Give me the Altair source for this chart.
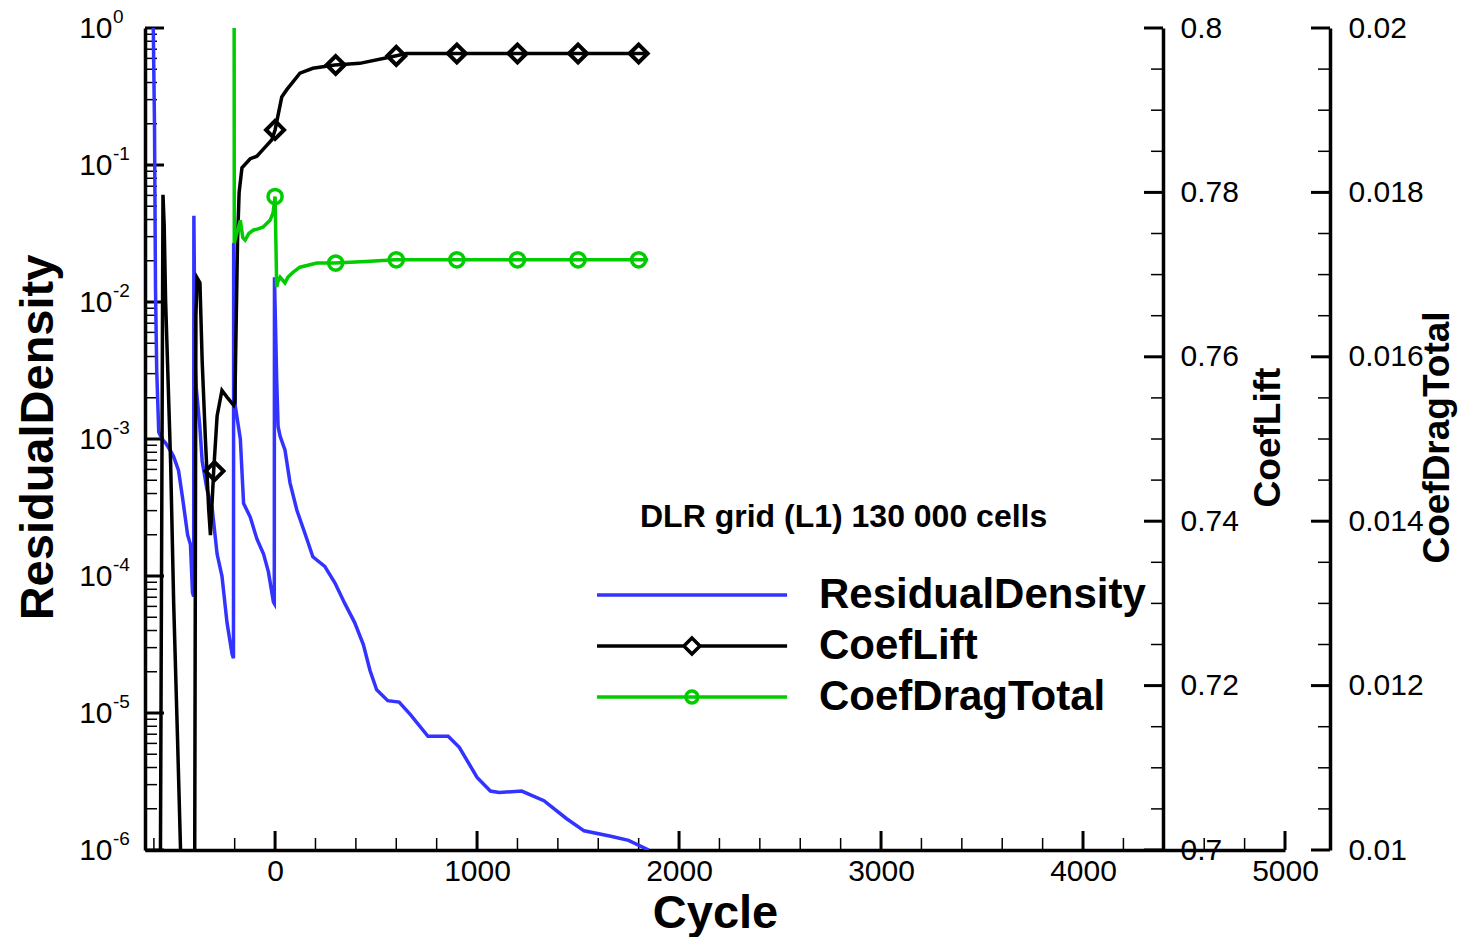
import altair as alt
import pandas as pd

# ---------------- values ----------------
series_names = ["ResidualDensity", "CoefLift", "CoefDragTotal"]

res_cycle = [-603, -597, -592, -586, -576, -560, -542, -520, -502, -478,
             -458, -433, -419, -409, -403, -402, -396, -390, -373, -361,
             -337, -312, -287, -263, -238, -213, -206, -205, -197, -172,
             -156, -123, -90, -57, -33, -8, -4, -3, 8, 15,
             25, 49, 74, 108, 148, 187, 246, 296, 345, 394,
             437, 470, 503, 558, 614, 669, 757, 857, 912, 1000,
             1066, 1110, 1221, 1331, 1442, 1530, 1662, 1750, 1850]
res_log10 = [0.0, -0.7, -1.9, -2.5, -2.95, -3.0, -3.03, -3.08, -3.13, -3.23,
             -3.43, -3.70, -3.77, -4.12, -4.15, -1.37, -2.45, -2.63, -2.9, -3.16,
             -3.37, -3.50, -3.84, -4.0, -4.34, -4.57, -4.6, -1.57, -2.76, -3.0,
             -3.47, -3.57, -3.73, -3.84, -3.97, -4.19, -4.2, -1.82, -2.57, -2.91,
             -2.98, -3.08, -3.32, -3.52, -3.69, -3.86, -3.93, -4.05, -4.20, -4.34,
             -4.50, -4.69, -4.83, -4.91, -4.92, -5.01, -5.17, -5.17, -5.25, -5.47,
             -5.57, -5.58, -5.57, -5.64, -5.77, -5.86, -5.90, -5.93, -6.0]

lift_cycle = [-583, -555, -549, -542, -517, -502, -483, -468, -455, -425,
              -404, -392, -386, -372, -361, -345, -329, -320, -304, -287,
              -263, -238, -205, -199, -192, -186, -178, -164, -123, -90,
              -49, -16, 0, 33, 58, 123, 187, 296, 419, 595,
              649, 900, 1200, 1500, 1847]
lift_value = [0.60, 0.7797, 0.7760, 0.7668, 0.7470, 0.7300, 0.7136, 0.7000, 0.6800, 0.6300,
              0.6300, 0.7650, 0.7696, 0.7690, 0.7595, 0.7500, 0.7416, 0.7383, 0.7461, 0.7528,
              0.7559, 0.7551, 0.7541, 0.7545, 0.7650, 0.7740, 0.7800, 0.7830, 0.7841, 0.7844,
              0.7855, 0.7864, 0.7876, 0.7916, 0.7925, 0.7945, 0.7951, 0.7955, 0.7957, 0.7966,
              0.7969, 0.7969, 0.7969, 0.7969, 0.7969]

drag_cycle = [-203, -202, -189, -172, -160, -148, -130, -108, -80, -59,
              -25, -10, 0, 8, 15, 25, 49, 64, 90, 123,
              207, 296, 450, 595, 900, 1200, 1500, 1847]
drag_value = [0.0215, 0.01738, 0.01751, 0.01766, 0.01745, 0.01742, 0.01750, 0.01754, 0.01756, 0.01758,
              0.01766, 0.01775, 0.01795, 0.01685, 0.01692, 0.01697, 0.01690, 0.01697, 0.01703, 0.01709,
              0.01714, 0.01714, 0.01716, 0.01718, 0.01718, 0.01718, 0.01718, 0.01718]

lift_marker_cycle = [-300, 0, 300, 600, 900, 1200, 1500, 1800]
lift_marker_value = [0.7461, 0.7876, 0.7955, 0.7966, 0.7969, 0.7969, 0.7969, 0.7969]
drag_marker_cycle = [0, 300, 600, 900, 1200, 1500, 1800]
drag_marker_value = [0.01795, 0.01714, 0.01718, 0.01718, 0.01718, 0.01718, 0.01718]

cycle_ticks = [0, 1000, 2000, 3000, 4000, 5000]
cycle_minor = [-600, -400, -200, 200, 400, 600, 800, 1200, 1400, 1600, 1800,
               2200, 2400, 2600, 2800, 3200, 3400, 3600, 3800, 4200, 4400, 4600, 4800]
res_ticks = [1e-6, 1e-5, 1e-4, 1e-3, 1e-2, 1e-1, 1.0]
res_exponents = ["-6", "-5", "-4", "-3", "-2", "-1", "0"]
res_minor = [k * 10.0 ** e for e in range(-6, 0) for k in range(2, 10)]
lift_ticks = [0.70, 0.72, 0.74, 0.76, 0.78, 0.80]
lift_minor = [0.705, 0.71, 0.715, 0.725, 0.73, 0.735, 0.745, 0.75, 0.755,
              0.765, 0.77, 0.775, 0.785, 0.79, 0.795]
drag_ticks = [0.010, 0.012, 0.014, 0.016, 0.018, 0.020]
drag_minor = [0.0105, 0.011, 0.0115, 0.0125, 0.013, 0.0135, 0.0145, 0.015, 0.0155,
              0.0165, 0.017, 0.0175, 0.0185, 0.019, 0.0195]

# ---------------- styling ----------------
FONT = "Liberation Sans"
BLUE = "#3333ff"
GREEN = "#00cc00"
W, H = 1140, 822
LIFT_OFFSET = -122
DRAG_OFFSET = 45
LIFT_X = W + LIFT_OFFSET
DRAG_X = W + DRAG_OFFSET
MAJ, MIN = 19, 12
LW = 3.5

xscale = alt.Scale(domain=[-644, 5000], nice=False, zero=False)
res_scale = alt.Scale(type="log", domain=[1e-6, 1.0], nice=False)
lift_scale = alt.Scale(domain=[0.7, 0.8], nice=False, zero=False)
drag_scale = alt.Scale(domain=[0.01, 0.02], nice=False, zero=False)

x_axis = alt.Axis(values=cycle_ticks, format="d", ticks=False, tickSize=0, grid=False,
                  domainWidth=3.5, domainColor="black", labelFont=FONT, labelFontSize=30,
                  labelColor="black", labelPadding=6, labelFlush=False, labelOverlap=False,
                  title="Cycle", titleFont=FONT, titleFontSize=47, titleFontWeight="bold",
                  titleColor="black", titleX=570, titleY=63, titleAlign="center",
                  titleBaseline="middle")


def X():
    return alt.X("cycle:Q", scale=xscale, axis=x_axis)


def side_axis(orient, offset, values, title, title_x, title_size, fmt=None, expr=None, pad=17):
    kw = dict(orient=orient, offset=offset, values=values, ticks=False, tickSize=0, grid=False,
              domainWidth=3.5, domainColor="black", labelFont=FONT, labelFontSize=30,
              labelColor="black", labelPadding=pad, labelFlush=False, labelOverlap=False,
              title=title, titleFont=FONT, titleFontSize=title_size, titleFontWeight="bold",
              titleColor="black", titleAngle=270, titleX=title_x, titleY=H / 2 - 2,
              titleAlign="center", titleBaseline="middle")
    if fmt is not None:
        kw["format"] = fmt
    if expr is not None:
        kw["labelExpr"] = expr
    return alt.Axis(**kw)


def hticks(values, scale, x0, x1, width):
    return alt.Chart(pd.DataFrame({"v": values})).mark_rule(color="black", strokeWidth=width).encode(
        y=alt.Y("v:Q", scale=scale, axis=None), x=alt.value(x0), x2=alt.value(x1))


def vticks(values, length, width):
    return alt.Chart(pd.DataFrame({"cycle": values})).mark_rule(color="black", strokeWidth=width).encode(
        x=X(), y=alt.value(H), y2=alt.value(H - length))


res_df = pd.DataFrame({"cycle": res_cycle, "value": [10.0 ** v for v in res_log10]})
lift_df = pd.DataFrame({"cycle": lift_cycle, "value": lift_value})
drag_df = pd.DataFrame({"cycle": drag_cycle, "value": drag_value})
lift_mk = pd.DataFrame({"cycle": lift_marker_cycle, "value": lift_marker_value})
drag_mk = pd.DataFrame({"cycle": drag_marker_cycle, "value": drag_marker_value})
exp_df = pd.DataFrame({"v": res_ticks, "e": res_exponents})

res_line = alt.Chart(res_df).mark_line(color=BLUE, strokeWidth=LW, clip=True).encode(
    x=X(),
    y=alt.Y("value:Q", scale=res_scale,
            axis=side_axis("left", 0, res_ticks, "ResidualDensity", -107, 47, expr="'10'", pad=33)))

lift_line = alt.Chart(lift_df).mark_line(color="black", strokeWidth=LW, clip=True).encode(
    x=X(),
    y=alt.Y("value:Q", scale=lift_scale,
            axis=side_axis("right", LIFT_OFFSET, lift_ticks, "CoefLift", 105, 37, fmt="~g")))

drag_line = alt.Chart(drag_df).mark_line(color=GREEN, strokeWidth=LW, clip=True).encode(
    x=X(),
    y=alt.Y("value:Q", scale=drag_scale,
            axis=side_axis("right", DRAG_OFFSET, drag_ticks, "CoefDragTotal", 107, 37, fmt="~g", pad=18)))

lift_points = alt.Chart(lift_mk).mark_point(shape="diamond", size=324, filled=False, strokeWidth=4,
                                            color="black", opacity=1).encode(
    x=X(), y=alt.Y("value:Q", scale=lift_scale, axis=None))

drag_points = alt.Chart(drag_mk).mark_point(shape="circle", size=200, filled=False, strokeWidth=3.5,
                                            color=GREEN, opacity=1).encode(
    x=X(), y=alt.Y("value:Q", scale=drag_scale, axis=None))

exponents = alt.Chart(exp_df).mark_text(align="left", baseline="middle", dy=-11, fontSize=19,
                                        font=FONT, color="black").encode(
    y=alt.Y("v:Q", scale=res_scale, axis=None), x=alt.value(-32), text="e:N")

legend_paths = [
    "M-2.73,0L4.58,0",
    "M-2.73,0L0.61,0M1.23,0L4.58,0M0.61,0L0.92,-0.31L1.23,0L0.92,0.31Z",
    "M-2.73,0L4.58,0M0.69,0A0.23,0.23,0,1,1,1.15,0A0.23,0.23,0,1,1,0.69,0Z",
]
legend_spec = alt.Legend(orient="none", legendX=495, legendY=474,
                         title="DLR grid (L1) 130 000 cells", titleFont=FONT, titleFontSize=32,
                         titleFontWeight="bold", titleColor="black", titlePadding=33,
                         titleAnchor="start", titleLimit=800, labelFont=FONT, labelFontSize=42,
                         labelFontWeight="bold", labelColor="black", labelOffset=123,
                         labelLimit=800, symbolSize=2704, symbolStrokeWidth=3.5, rowPadding=2,
                         padding=0)
legend_layer = alt.Chart(alt.Data(values=[{"series": s, "cycle": None} for s in series_names])).mark_point(
    filled=False, strokeWidth=3.5, opacity=1).encode(
    x=X(),
    color=alt.Color("series:N", scale=alt.Scale(domain=series_names, range=[BLUE, "black", GREEN]),
                    legend=legend_spec),
    shape=alt.Shape("series:N", scale=alt.Scale(domain=series_names, range=legend_paths),
                    legend=legend_spec))

layers = [
    hticks(res_ticks, res_scale, 0, MAJ, 3),
    hticks(res_minor, res_scale, 0, MIN, 1.5),
    vticks(cycle_ticks, MAJ, 3),
    vticks(cycle_minor, MIN, 1.5),
    hticks(lift_ticks, lift_scale, LIFT_X - MAJ, LIFT_X, 3),
    hticks(lift_minor, lift_scale, LIFT_X - MIN, LIFT_X, 1.5),
    hticks(drag_ticks, drag_scale, DRAG_X - MAJ, DRAG_X, 3),
    hticks(drag_minor, drag_scale, DRAG_X - MIN, DRAG_X, 1.5),
    res_line, lift_line, drag_line, lift_points, drag_points, exponents, legend_layer,
]

chart = alt.layer(*layers).resolve_scale(y="independent").properties(
    width=W, height=H,
    padding={"left": 145, "top": 28, "right": 175, "bottom": 87},
    autosize=alt.AutoSizeParams(type="none"),
).configure(background="white", font=FONT).configure_view(stroke=None)

chart.save("out.html", embed_options={"renderer": "svg", "actions": False})
